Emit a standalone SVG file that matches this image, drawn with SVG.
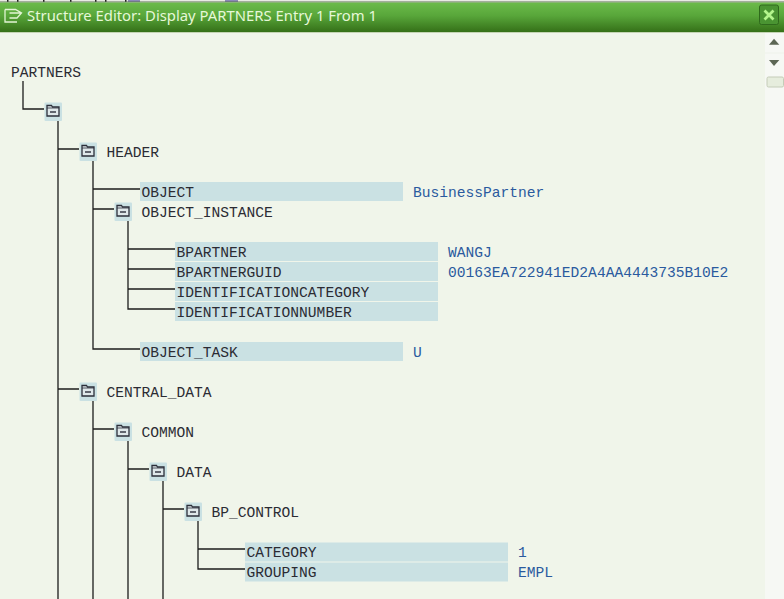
<svg xmlns="http://www.w3.org/2000/svg" width="784" height="599" viewBox="0 0 784 599">
<style>
.t{font-family:"Liberation Mono","Courier New",monospace;font-size:14.6px;fill:#2b2b33}
.v{font-family:"Liberation Mono","Courier New",monospace;font-size:14.6px;fill:#2a5a9e}
.f{fill:#cae1e3}
.c{fill:none;stroke:#1c1c1c;stroke-width:1.3}
.ttl{font-family:"Noto Sans","DejaVu Sans",sans-serif;font-size:15px;fill:#e6f8d8}
</style>
<defs>
<linearGradient id="bar" x1="0" y1="0" x2="0" y2="1">
<stop offset="0" stop-color="#6cbb4a"/><stop offset="0.45" stop-color="#58a63a"/><stop offset="1" stop-color="#357018"/>
</linearGradient>
<g id="folder">
<rect x="0" y="0" width="17.500" height="18.500" fill="#cae1e3" rx="1"/>
<path d="M2.500 3h4.500l1 1.500h6.500v9h-12z" fill="#dfe8ea" stroke="#2c2f3a" stroke-width="1.300"/>
<path d="M2.500 5.500h12" stroke="#2c2f3a" stroke-width="0.800"/>
<path d="M5.500 9.500h6" stroke="#2c2f3a" stroke-width="1.400"/>
</g>
</defs>
<rect width="784" height="599" fill="#f0f5ea"/>
<rect x="765" y="33" width="19" height="566" fill="#f6f8f4"/>
<rect x="765" y="52.500" width="19" height="1" fill="#eef1ea"/>
<rect x="0" y="0" width="784" height="1.500" fill="#e8ebe2"/>
<g id="remnants" fill="#222">
<rect x="7" y="0" width="1.500" height="2"/><rect x="17" y="0" width="1.500" height="2"/><rect x="43" y="0" width="1.500" height="2"/><rect x="70" y="0" width="1.500" height="2"/><rect x="95" y="0" width="1.500" height="2"/><rect x="105" y="0" width="1.500" height="2"/><rect x="125" y="0" width="1.500" height="2"/>
<rect x="128" y="0" width="12" height="2" fill="#8a88b8"/><rect x="225" y="0" width="13" height="2" fill="#8a88b8"/>
</g>
<rect x="0" y="1.500" width="784" height="1" fill="#5b6a50"/>
<rect x="0" y="2.500" width="784" height="29.500" fill="url(#bar)"/>
<rect x="0" y="32" width="784" height="1" fill="#c4d4b4"/>
<g id="title">
<path d="M5 9.500h10.500l6 3.500l-4.500 5h-7.500M5 9.500v12.500h12M9.500 13h12" fill="none" stroke="#e2f4d4" stroke-width="1.300"/>
<text class="ttl" x="27" y="21" textLength="350" lengthAdjust="spacingAndGlyphs">Structure Editor: Display PARTNERS Entry 1 From 1</text>
</g>
<g id="close">
<rect x="759.500" y="5" width="19" height="19.500" rx="2" fill="#4a9432" stroke="#2f6a1c"/>
<path d="M764.500 10.500l9 9M773.500 10.500l-9 9" stroke="#b4f58c" stroke-width="2.800"/>
</g>
<g id="scrollbar">
<path d="M769 44.700l5-6l5.300 6z" fill="#5c6654"/>
<path d="M769 60h10.300l-5.300 6z" fill="#5c6654"/>
<rect x="767" y="77" width="16.500" height="10" rx="1.500" fill="#e6eddd" stroke="#c4ccb8"/>
</g>
<g id="connectors" class="c">
<path class="c" d="M23 81V109H44"/>
<path class="c" d="M58 121V599M58 149H79M58 389H79"/>
<path class="c" d="M93 161V349H140M93 189H140M93 209H114"/>
<path class="c" d="M128 221V309H175M128 249H175M128 269H175M128 289H175"/>
<path class="c" d="M93 401V599M93 429H114"/>
<path class="c" d="M128 441V599M128 469H149"/>
<path class="c" d="M163 481V599M163 509H184"/>
<path class="c" d="M198 521V569H245M198 549H245"/>
</g>
<g id="PARTNERS"><text class="t" x="11" y="77">PARTNERS</text></g>
<g id="root"><use href="#folder" x="44.500" y="102.500"/></g>
<g id="HEADER"><use href="#folder" x="79.500" y="142.500"/><text class="t" x="106.500" y="157">HEADER</text></g>
<g id="OBJECT"><rect class="f" x="140" y="182" width="263" height="19"/><text class="t" x="141.500" y="197">OBJECT</text><text class="v" x="413" y="197">BusinessPartner</text></g>
<g id="OBJECT_INSTANCE"><use href="#folder" x="114.500" y="202.500"/><text class="t" x="141.500" y="217">OBJECT_INSTANCE</text></g>
<g id="BPARTNER"><rect class="f" x="175" y="242" width="263" height="19"/><text class="t" x="176.500" y="257">BPARTNER</text><text class="v" x="448" y="257">WANGJ</text></g>
<g id="BPARTNERGUID"><rect class="f" x="175" y="262" width="263" height="19"/><text class="t" x="176.500" y="277">BPARTNERGUID</text><text class="v" x="448" y="277">00163EA722941ED2A4AA4443735B10E2</text></g>
<g id="IDENTIFICATIONCATEGORY"><rect class="f" x="175" y="282" width="263" height="19"/><text class="t" x="176.500" y="297">IDENTIFICATIONCATEGORY</text></g>
<g id="IDENTIFICATIONNUMBER"><rect class="f" x="175" y="302" width="263" height="19"/><text class="t" x="176.500" y="317">IDENTIFICATIONNUMBER</text></g>
<g id="OBJECT_TASK"><rect class="f" x="140" y="342" width="263" height="19"/><text class="t" x="141.500" y="357">OBJECT_TASK</text><text class="v" x="413" y="357">U</text></g>
<g id="CENTRAL_DATA"><use href="#folder" x="79.500" y="382.500"/><text class="t" x="106.500" y="397">CENTRAL_DATA</text></g>
<g id="COMMON"><use href="#folder" x="114.500" y="422.500"/><text class="t" x="141.500" y="437">COMMON</text></g>
<g id="DATA"><use href="#folder" x="149.500" y="462.500"/><text class="t" x="176.500" y="477">DATA</text></g>
<g id="BP_CONTROL"><use href="#folder" x="184.500" y="502.500"/><text class="t" x="211.500" y="517">BP_CONTROL</text></g>
<g id="CATEGORY"><rect class="f" x="245" y="542.500" width="263" height="19"/><text class="t" x="246.500" y="557">CATEGORY</text><text class="v" x="518" y="557">1</text></g>
<g id="GROUPING"><rect class="f" x="245" y="562.500" width="263" height="19"/><text class="t" x="246.500" y="577">GROUPING</text><text class="v" x="518" y="577">EMPL</text></g>
</svg>
